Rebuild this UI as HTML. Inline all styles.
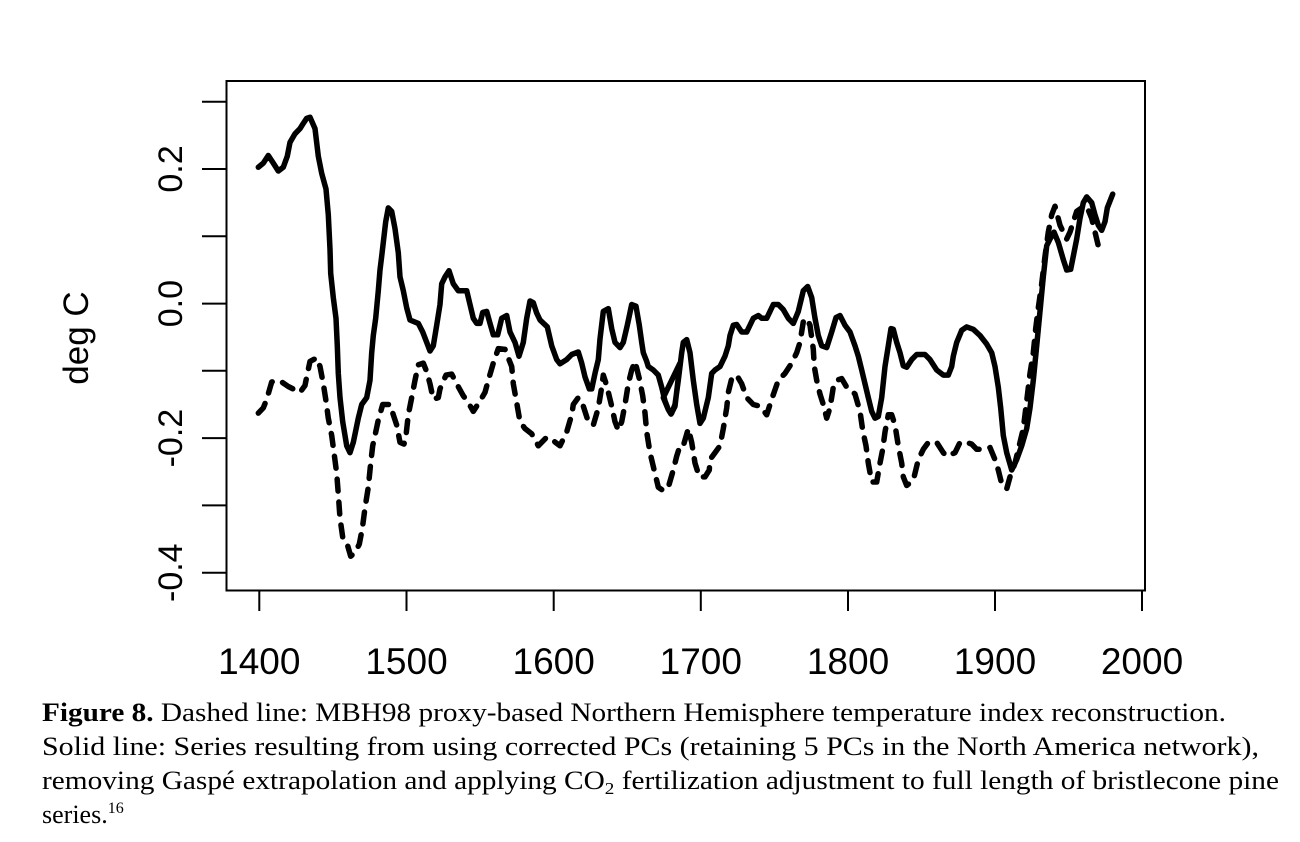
<!DOCTYPE html>
<html><head><meta charset="utf-8"><style>
html,body{margin:0;padding:0;background:#fff;}
svg{display:block;}
</style></head><body>
<svg id="s" width="1300" height="842" xmlns="http://www.w3.org/2000/svg">
<rect width="1300" height="842" fill="#fff"/>
<rect x="226.5" y="81" width="918.5" height="509.5" fill="none" stroke="#000" stroke-width="2"/>
<g stroke="#000" stroke-width="2">
<line x1="202" y1="101.7" x2="226" y2="101.7"/>
<line x1="202" y1="169" x2="226" y2="169"/>
<line x1="202" y1="236.3" x2="226" y2="236.3"/>
<line x1="202" y1="303.6" x2="226" y2="303.6"/>
<line x1="202" y1="370.8" x2="226" y2="370.8"/>
<line x1="202" y1="438.1" x2="226" y2="438.1"/>
<line x1="202" y1="505.4" x2="226" y2="505.4"/>
<line x1="202" y1="572.7" x2="226" y2="572.7"/>
<line x1="259.3" y1="591" x2="259.3" y2="611"/>
<line x1="406.5" y1="591" x2="406.5" y2="611"/>
<line x1="553.7" y1="591" x2="553.7" y2="611"/>
<line x1="700.8" y1="591" x2="700.8" y2="611"/>
<line x1="848" y1="591" x2="848" y2="611"/>
<line x1="995" y1="591" x2="995" y2="611"/>
<line x1="1142" y1="591" x2="1142" y2="611"/>
</g>
<g font-family="Liberation Sans, sans-serif" font-size="34" text-anchor="middle" fill="#000">
<text transform="translate(182,169) rotate(-90)">0.2</text>
<text transform="translate(182,303.6) rotate(-90)">0.0</text>
<text transform="translate(182,438.1) rotate(-90)">-0.2</text>
<text transform="translate(182,572.7) rotate(-90)">-0.4</text>
<text transform="translate(88,338) rotate(-90)" font-size="35">deg C</text>
</g>
<g font-family="Liberation Sans, sans-serif" font-size="37" text-anchor="middle" fill="#000">
<text x="259.3" y="674">1400</text>
<text x="406.5" y="674">1500</text>
<text x="553.7" y="674">1600</text>
<text x="700.8" y="674">1700</text>
<text x="848" y="674">1800</text>
<text x="995" y="674">1900</text>
<text x="1142" y="674">2000</text>
</g>
<path id="sol" fill="none" stroke="#000" stroke-width="5.5" stroke-linejoin="round" stroke-linecap="round"/>
<path id="das" fill="none" stroke="#000" stroke-width="5.5" stroke-linejoin="round" stroke-linecap="round" stroke-dasharray="12 11"/>
<g font-family="Liberation Serif, serif" font-size="26" fill="#000">
<text x="42" y="721" textLength="1184" lengthAdjust="spacingAndGlyphs"><tspan font-weight="bold">Figure 8.</tspan> Dashed line: MBH98 proxy-based Northern Hemisphere temperature index reconstruction.</text>
<text x="42" y="755" textLength="1217" lengthAdjust="spacingAndGlyphs">Solid line: Series resulting from using corrected PCs (retaining 5 PCs in the North America network),</text>
<text x="42" y="789" textLength="1237" lengthAdjust="spacingAndGlyphs">removing Gaspé extrapolation and applying CO<tspan font-size="17" dy="5">2</tspan><tspan dy="-5"> fertilization adjustment to full length of bristlecone pine</tspan></text>
<text x="42" y="823">series.<tspan font-size="16" dy="-10">16</tspan></text>
</g>
</svg>
<script>
var s1a=[175,282,190,270,205,248,220,270,235,293,250,282,262,250,270,210,285,185,300,170,310,155,320,140,330,137,345,170,355,250,365,300,378,345,385,420,390,520,392,590,400,660,408,720,412,800,415,880,420,950,428,1020,440,1090,450,1110,460,1080,475,1010,485,970,500,950,510,900,515,820,520,770,527,720,535,640,540,580,545,540,550,500,557,440,565,400,575,410,585,460,595,530,600,600,610,640,620,690,630,725,655,735,668,760,680,790,690,815,700,800,710,740,720,680,725,620,735,600,747,582,760,620,775,640,800,640,810,680,820,720,830,735,840,735,848,703,860,700,870,735,880,768,893,768,905,720,920,712,930,760,945,790,957,830,970,790,980,720,990,670,1000,675,1010,705,1020,725,1042,745,1055,800,1070,840,1080,852,1100,840,1115,825,1135,818,1145,850,1155,890,1168,925,1175,925,1185,880,1195,840,1200,780,1210,700,1225,692,1235,750,1245,790,1260,805,1270,790,1282,740,1295,680,1308,685,1318,740,1325,790,1330,820,1340,845,1345,860,1360,870,1375,885,1385,920,1395,960,1405,985,1413,998,1425,975,1440,850];
var s2a=[10,950,25,985,35,995,45,970,55,900,65,820,70,790,80,782,90,820,100,900,110,970,120,1025,130,1010,145,950,155,880,165,870,180,860,195,830,205,800,210,770,220,740,230,738,245,760,260,760,270,740,280,720,295,712,305,720,320,720,330,700,340,680,355,680,370,695,385,720,400,735,415,700,430,640,443,628,455,660,465,720,475,770,485,800,500,805,515,760,528,718,540,712,555,740,570,760,585,800,595,830,605,870,615,910,625,950,635,990,645,1010,655,1005,665,950,675,860,685,800,693,750,700,752,710,790,720,820,730,858,740,862,755,840,770,825,795,825,810,840,830,870,850,885,865,885,875,860,880,830,890,790,905,755,920,745,940,752,960,770,980,795,995,820,1005,860,1015,920,1022,980,1030,1060,1040,1110,1055,1160,1070,1130,1085,1090,1100,1040,1110,980,1120,900,1130,800,1140,700,1150,600,1160,510,1170,490,1182,470,1195,500,1210,550,1220,580,1232,578,1240,540,1250,490,1260,430,1270,385,1280,368,1295,385,1305,420,1315,450,1325,465,1335,440,1342,400,1350,380,1358,360];
var d1a=[175,995,190,980,200,955,215,905,230,900,245,905,265,918,300,935,315,915,320,890,330,845,350,835,360,860,370,910,378,960,385,1010,395,1060,402,1110,410,1170,415,1230,420,1300,428,1355,440,1370,452,1410,465,1400,478,1375,487,1330,495,1270,505,1210,512,1140,518,1090,525,1060,535,1015,548,970,570,970,580,1000,590,1030,600,1080,612,1085,618,1060,625,1000,635,950,645,900,655,855,670,850,680,875,690,910,700,955,715,950,720,925,738,885,755,882,770,910,790,945,805,965,820,990,840,960,855,935,865,900,880,850,895,808,915,810,925,835,935,860,940,910,950,965,960,1020,975,1040,995,1055,1015,1090,1040,1065,1060,1075,1080,1090,1100,1050,1115,1000,1120,970,1135,950,1150,975,1165,1020,1180,1030,1195,980,1205,920,1210,885,1220,915,1235,975,1245,1020,1255,1045,1265,1020,1275,970,1285,910,1295,870,1305,845,1318,895,1328,945,1335,995,1340,1050,1350,1110,1360,1150,1375,1210,1390,1220,1405,1210,1420,1160,1430,1120,1440,1090];
var d2a=[70,1090,85,1040,95,1080,105,1140,118,1180,135,1180,148,1160,150,1130,165,1110,180,1090,190,1040,200,980,205,935,215,895,230,885,245,910,260,950,280,970,300,975,320,1000,335,955,355,900,375,880,395,850,410,820,420,790,430,730,440,720,450,740,460,810,463,860,470,900,480,940,490,970,500,1010,510,980,520,920,530,900,545,895,560,920,575,930,585,940,600,990,608,1045,618,1090,625,1140,635,1195,650,1195,660,1140,668,1100,675,1050,685,1000,695,1000,705,1030,715,1090,725,1140,730,1180,740,1205,760,1190,775,1130,790,1100,805,1080,830,1080,850,1110,860,1120,885,1110,900,1080,920,1080,935,1085,950,1100,970,1100,990,1095,1005,1130,1015,1160,1025,1200,1040,1215,1050,1180,1065,1140,1080,1080,1090,1040,1100,960,1110,880,1120,820,1127,750,1135,690,1145,620,1155,540,1165,470,1175,420,1185,395,1200,450,1210,470,1220,490,1230,470,1240,440,1250,410,1265,400,1280,395,1295,430,1305,470,1315,510,1325,535];
function conv(a,ox,oy,out){for(var i=0;i<a.length;i+=2){out.push((ox+a[i]/3).toFixed(1)+","+(oy+a[i+1]*0.3448).toFixed(1));}}
var p=[];conv(s1a,200,70,p);conv(s2a,660,70,p);
document.getElementById("sol").setAttribute("d","M"+p.join(" L"));
var q=[];conv(d1a,200,70,q);conv(d2a,660,70,q);
document.getElementById("das").setAttribute("d","M"+q.join(" L"));
</script>
</body></html>
